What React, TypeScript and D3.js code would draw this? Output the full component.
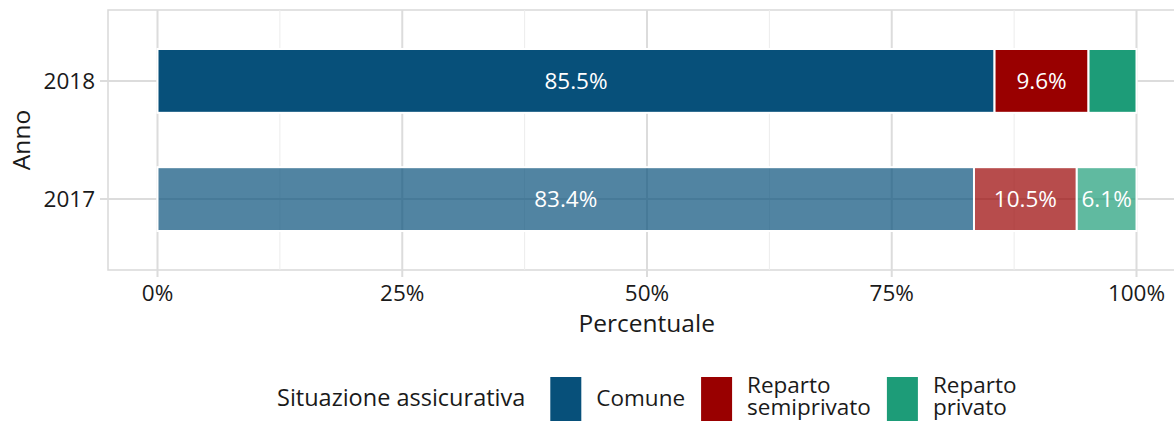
import React, { useEffect, useRef } from 'react';
import * as d3 from 'd3';

const years = ['2018', '2017'];
const categories = ['Comune', 'Reparto semiprivato', 'Reparto privato'];
const legendLines = [['Comune'], ['Reparto', 'semiprivato'], ['Reparto', 'privato']];
const colors = ['#07507a', '#990000', '#1d9c78'];
const values2018 = [85.5, 9.6, 4.9];
const values2017 = [83.4, 10.5, 6.1];
const yearAlpha = [1, 0.7];
const xTicks = [0, 25, 50, 75, 100];
const xMinor = [12.5, 37.5, 62.5, 87.5];

function App() {
    const ref = useRef<SVGSVGElement>(null);
    const width = 1174;
    const height = 421;
    const panelLeft = 108;
    const panelTop = 10;
    const panelBottom = 270;
    const font = '"Open Sans", sans-serif';
    const fs = 22.5;

    useEffect(() => {
        const svg = d3.select(ref.current);
        svg.selectAll('*').remove();

        const x = d3.scaleLinear().domain([0, 100]).range([157.5, 1136.5]);
        const panelRight = x(105);
        const y = d3.scalePoint<string>().domain(years).range([panelTop, panelBottom]).padding(0.6);
        const barH = y.step() * 0.54;

        const rows = [values2018, values2017].map((vals, i) => {
            let acc = 0;
            return vals.map((v, j) => {
                const d = { year: years[i], cat: categories[j], color: colors[j], alpha: yearAlpha[i], x0: acc, x1: acc + v, v };
                acc += v;
                return d;
            });
        });

        // panel border
        svg.append('rect')
            .attr('x', panelLeft).attr('y', panelTop)
            .attr('width', panelRight - panelLeft).attr('height', panelBottom - panelTop)
            .attr('fill', 'none').attr('stroke', '#d9d9d9').attr('stroke-width', 1.5);

        // grid
        svg.append('g').selectAll('line').data(xMinor).join('line')
            .attr('x1', d => x(d)).attr('x2', d => x(d))
            .attr('y1', panelTop).attr('y2', panelBottom)
            .attr('stroke', '#ececec').attr('stroke-width', 1);
        svg.append('g').selectAll('line').data(xTicks).join('line')
            .attr('x1', d => x(d)).attr('x2', d => x(d))
            .attr('y1', panelTop).attr('y2', panelBottom + 7)
            .attr('stroke', '#dcdcdc').attr('stroke-width', 2);
        svg.append('g').selectAll('line').data(years).join('line')
            .attr('x1', panelLeft - 8).attr('x2', panelRight)
            .attr('y1', d => y(d)!).attr('y2', d => y(d)!)
            .attr('stroke', '#dcdcdc').attr('stroke-width', 2);

        // bars
        const segs = rows.flat();
        svg.append('g').selectAll('rect').data(segs).join('rect')
            .attr('x', d => x(d.x0)).attr('width', d => x(d.x1) - x(d.x0))
            .attr('y', d => y(d.year)! - barH / 2).attr('height', barH)
            .attr('fill', d => d.color).attr('fill-opacity', d => d.alpha)
            .attr('stroke', '#fff').attr('stroke-width', 2);

        svg.append('g').selectAll('text').data(segs.filter(d => d.v >= 5)).join('text')
            .attr('x', d => x((d.x0 + d.x1) / 2)).attr('y', d => y(d.year)! + 8)
            .attr('text-anchor', 'middle').attr('fill', '#fff')
            .attr('font-family', font).attr('font-size', fs)
            .text(d => `${d.v.toFixed(1)}%`);

        // axis labels
        svg.append('g').selectAll('text').data(xTicks).join('text')
            .attr('x', d => x(d)).attr('y', 301)
            .attr('text-anchor', 'middle').attr('fill', '#1a1a1a')
            .attr('font-family', font).attr('font-size', fs)
            .text(d => `${d}%`);
        svg.append('g').selectAll('text').data(years).join('text')
            .attr('x', 95).attr('y', d => y(d)! + 8)
            .attr('text-anchor', 'end').attr('fill', '#1a1a1a')
            .attr('font-family', font).attr('font-size', fs)
            .text(d => d);

        svg.append('text')
            .attr('x', (panelLeft + panelRight) / 2).attr('y', 332)
            .attr('text-anchor', 'middle').attr('fill', '#1a1a1a')
            .attr('font-family', font).attr('font-size', 24.5)
            .text('Percentuale');
        svg.append('text')
            .attr('transform', `translate(30,${(panelTop + panelBottom) / 2}) rotate(-90)`)
            .attr('text-anchor', 'middle').attr('fill', '#1a1a1a')
            .attr('font-family', font).attr('font-size', 24.5)
            .text('Anno');

        // legend
        const legend = svg.append('g');
        const title = legend.append('text')
            .attr('x', 0).attr('y', 406).attr('fill', '#1a1a1a')
            .attr('font-family', font).attr('font-size', 23.5).attr('font-weight', 500)
            .text('Situazione assicurativa');
        let cursor = (title.node() as SVGTextElement).getComputedTextLength() + 25;
        legendLines.forEach((lines, i) => {
            legend.append('rect')
                .attr('x', cursor).attr('y', 377).attr('width', 31).attr('height', 46)
                .attr('fill', colors[i]);
            const baseY = lines.length === 1 ? 406 : 393;
            let w = 0;
            lines.forEach((l, k) => {
                const t = legend.append('text')
                    .attr('x', cursor + 46).attr('y', baseY + k * 22)
                    .attr('fill', '#1a1a1a').attr('font-family', font).attr('font-size', fs)
                    .text(l);
                w = Math.max(w, (t.node() as SVGTextElement).getComputedTextLength());
            });
            cursor += 46 + w + (i < legendLines.length - 1 ? 16 : 0);
        });
        const cx = (panelLeft + panelRight) / 2;
        legend.attr('transform', `translate(${cx - cursor / 2},0)`);
    }, []);

    return (
        <svg ref={ref} width={width} height={height}
            style={{ position: 'absolute', left: 0, top: 0, background: '#fff' }} />
    );
}

export default App;
